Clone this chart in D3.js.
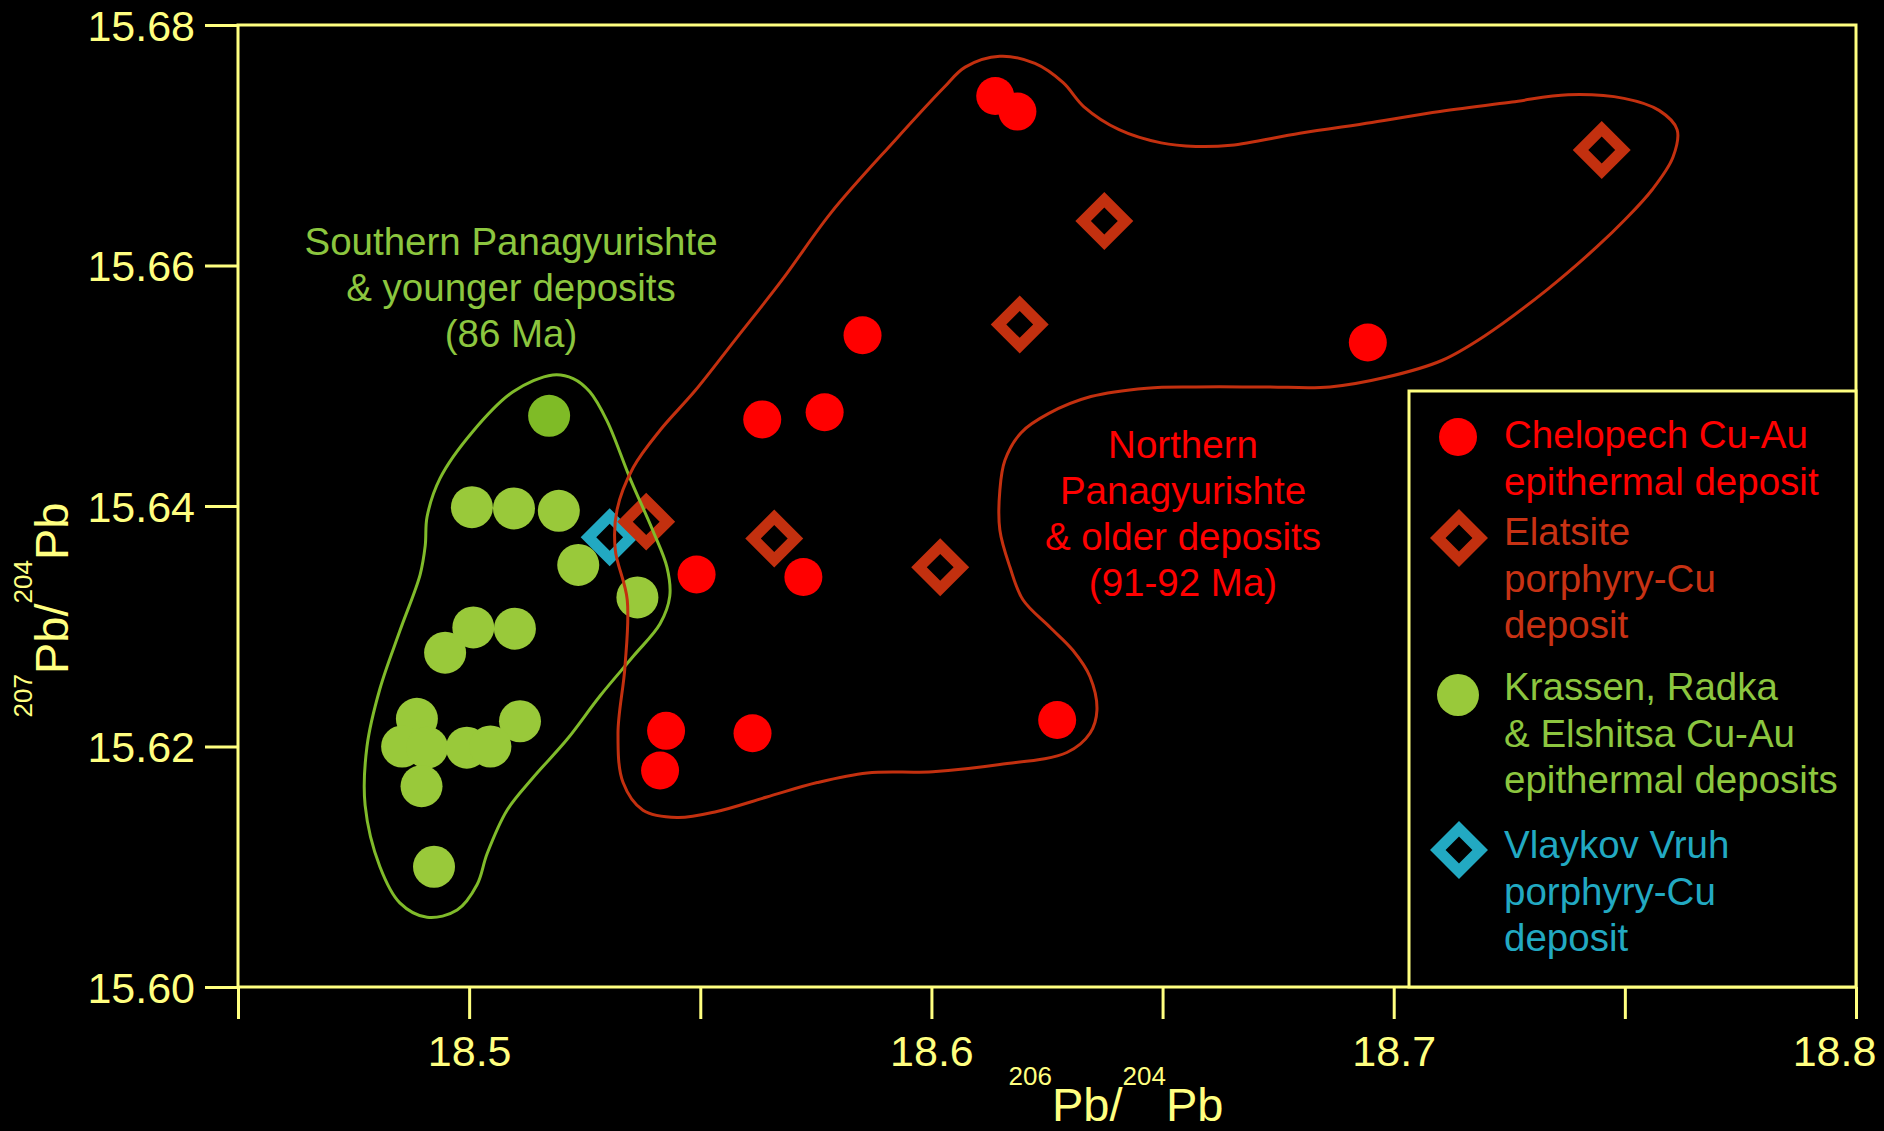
<!DOCTYPE html>
<html>
<head>
<meta charset="utf-8">
<script src="https://cdn.jsdelivr.net/npm/d3@7/dist/d3.min.js"></script>
<style>
  html, body { margin: 0; padding: 0; background: #000; }
  svg { display: block; font-family: Arial, "Liberation Sans", sans-serif; }
</style>
</head>
<body>
<div id="chart"></div>
<script>
// 206Pb/204Pb , 207Pb/204Pb pairs
var chelopech = [
    [18.6138, 15.6741], [18.6186, 15.6728], [18.5851, 15.6542], [18.6944, 15.6536],
    [18.5634, 15.6472], [18.5769, 15.6478], [18.5492, 15.6343], [18.5723, 15.6341],
    [18.5426, 15.6213], [18.5413, 15.6180], [18.5613, 15.6211], [18.6272, 15.6222]
];
var elatsite = [
    [18.7450, 15.6696], [18.6374, 15.6637], [18.6191, 15.6551],
    [18.5383, 15.6387], [18.5660, 15.6373], [18.6019, 15.6349]
];
var krassen = [
    [18.5173, 15.6475], [18.5006, 15.6399], [18.5097, 15.6398], [18.5194, 15.6396],
    [18.5236, 15.6351], [18.5364, 15.6324], [18.5009, 15.6299], [18.5099, 15.6298],
    [18.4948, 15.6278], [18.4887, 15.6223], [18.5110, 15.6221], [18.4855, 15.6200],
    [18.4909, 15.6199], [18.4995, 15.6199], [18.5046, 15.6200], [18.4897, 15.6167],
    [18.4924, 15.6100]
];
var vlaykov = [[18.5304, 15.6374]];

// hand drawn field outlines
var northernField = [
    [18.6148, 15.6774], [18.6224, 15.6768], [18.6285, 15.6752], [18.6330, 15.6732],
    [18.6406, 15.6713], [18.6497, 15.6702], [18.6572, 15.6699], [18.6648, 15.6700],
    [18.6797, 15.6710], [18.6953, 15.6719], [18.7100, 15.6728], [18.7256, 15.6736],
    [18.7377, 15.6742], [18.7498, 15.6739], [18.7574, 15.6729], [18.7613, 15.6713],
    [18.7604, 15.6690], [18.7559, 15.6663], [18.7500, 15.6638], [18.7438, 15.6615],
    [18.7332, 15.6580], [18.7195, 15.6541], [18.7104, 15.6521], [18.6983, 15.6507],
    [18.6862, 15.6499], [18.6724, 15.6499], [18.6572, 15.6499], [18.6466, 15.6498],
    [18.6345, 15.6491], [18.6254, 15.6477], [18.6194, 15.6461], [18.6159, 15.6438],
    [18.6148, 15.6413], [18.6148, 15.6380], [18.6170, 15.6349], [18.6198, 15.6322],
    [18.6257, 15.6299], [18.6306, 15.6280], [18.6343, 15.6258], [18.6358, 15.6230],
    [18.6343, 15.6211], [18.6293, 15.6195], [18.6148, 15.6185], [18.6003, 15.6179],
    [18.5861, 15.6178], [18.5753, 15.6170], [18.5644, 15.6158], [18.5536, 15.6146],
    [18.5450, 15.6141], [18.5376, 15.6147], [18.5333, 15.6170], [18.5322, 15.6211],
    [18.5337, 15.6266], [18.5342, 15.6322], [18.5316, 15.6364], [18.5320, 15.6397],
    [18.5355, 15.6432], [18.5413, 15.6463], [18.5489, 15.6496], [18.5575, 15.6538],
    [18.5677, 15.6588], [18.5783, 15.6644], [18.5921, 15.6704], [18.6027, 15.6748],
    [18.6073, 15.6765]
];
var southernField = [
    [18.5181, 15.6509], [18.5225, 15.6506], [18.5261, 15.6495], [18.5298, 15.6471],
    [18.5348, 15.6423], [18.5398, 15.6379], [18.5428, 15.6349], [18.5434, 15.6325],
    [18.5413, 15.6302], [18.5355, 15.6275], [18.5283, 15.6242], [18.5212, 15.6206],
    [18.5138, 15.6174], [18.5082, 15.6147], [18.5039, 15.6111], [18.5017, 15.6085],
    [18.4974, 15.6064], [18.4909, 15.6058], [18.4850, 15.6070], [18.4807, 15.6100],
    [18.4775, 15.6151], [18.4779, 15.6200], [18.4807, 15.6248], [18.4850, 15.6296],
    [18.4894, 15.6343], [18.4905, 15.6367], [18.4909, 15.6391], [18.4937, 15.6423],
    [18.5008, 15.6462], [18.5095, 15.6495]
];

var xTicks = [18.45, 18.5, 18.55, 18.6, 18.65, 18.7, 18.75, 18.8];
var xTickLabels = ["", "18.5", "", "18.6", "", "18.7", "", "18.8"];
var yTicks = [15.60, 15.62, 15.64, 15.66, 15.68];

var southernLabel = ["Southern Panagyurishte", "& younger deposits", "(86 Ma)"];
var northernLabel = ["Northern", "Panagyurishte", "& older deposits", "(91-92 Ma)"];

var yellow = "#ffff80";
var red = "#ff0000";
var brick = "#c3300f";
var green = "#99c93a";
var greenLine = "#80bb2a";
var greenText = "#8cc63f";
var cyan = "#22a9c2";

var width = 1884, height = 1131;

var svg = d3.select("#chart")
    .append("svg")
    .attr("width", width)
    .attr("height", height)
    .style("background", "#000");

var x = d3.scaleLinear().domain([18.45, 18.8]).range([238, 1856]);
var y = d3.scaleLinear().domain([15.60, 15.68]).range([987, 25]);

// frame
svg.append("rect")
    .attr("x", x(18.45))
    .attr("y", y(15.68))
    .attr("width", x(18.8) - x(18.45))
    .attr("height", y(15.60) - y(15.68))
    .attr("fill", "none")
    .attr("stroke", yellow)
    .attr("stroke-width", 3);

// axes
var xAxis = svg.append("g")
    .attr("transform", "translate(0," + y(15.60) + ")")
    .call(d3.axisBottom(x).tickValues(xTicks).tickSize(32).tickSizeOuter(0)
        .tickFormat(function(d, i) { return xTickLabels[i]; }));
xAxis.select(".domain").remove();
xAxis.selectAll("line").attr("stroke", yellow).attr("stroke-width", 3);
xAxis.selectAll("text")
    .attr("y", 79)
    .attr("dy", 0)
    .attr("dx", function(d, i) { return i === xTicks.length - 1 ? -22 : 0; })
    .attr("fill", yellow)
    .attr("font-size", "43px")
    .attr("font-family", "Arial, 'Liberation Sans', sans-serif");

var yAxis = svg.append("g")
    .attr("transform", "translate(" + x(18.45) + ",0)")
    .call(d3.axisLeft(y).tickValues(yTicks).tickSize(33).tickSizeOuter(0)
        .tickFormat(d3.format(".2f")));
yAxis.select(".domain").remove();
yAxis.selectAll("line").attr("stroke", yellow).attr("stroke-width", 3);
yAxis.selectAll("text")
    .attr("x", -43)
    .attr("dy", "0.36em")
    .attr("fill", yellow)
    .attr("font-size", "43px")
    .attr("font-family", "Arial, 'Liberation Sans', sans-serif");

// axis titles with superscript mass numbers
function isotopeTitle(g, top, bottom) {
    var t = g.append("text")
        .attr("text-anchor", "middle")
        .attr("fill", yellow)
        .attr("font-size", "47px");
    t.append("tspan").attr("font-size", "26px").attr("dy", -36).text(top);
    t.append("tspan").attr("dy", 36).text("Pb/");
    t.append("tspan").attr("font-size", "26px").attr("dy", -36).text(bottom);
    t.append("tspan").attr("dy", 36).text("Pb");
    return t;
}
isotopeTitle(svg.append("g").attr("transform", "translate(1116,1121)"), "206", "204");
isotopeTitle(svg.append("g").attr("transform", "translate(68,610) rotate(-90)"), "207", "204");

// diamond marker
var diamond = d3.symbol().type(d3.symbolSquare).size(900);

// points
svg.append("g").selectAll("circle")
    .data(krassen)
    .enter()
    .append("circle")
    .attr("cx", function(d) { return x(d[0]); })
    .attr("cy", function(d) { return y(d[1]); })
    .attr("r", 21)
    .attr("fill", function(d, i) { return i === 0 ? "#7fbb26" : green; });

svg.append("g").selectAll("circle")
    .data(chelopech)
    .enter()
    .append("circle")
    .attr("cx", function(d) { return x(d[0]); })
    .attr("cy", function(d) { return y(d[1]); })
    .attr("r", 19)
    .attr("fill", red);

svg.append("g").selectAll("path")
    .data(vlaykov)
    .enter()
    .append("path")
    .attr("d", diamond)
    .attr("transform", function(d) { return "translate(" + x(d[0]) + "," + y(d[1]) + ") rotate(45)"; })
    .attr("fill", "none")
    .attr("stroke", cyan)
    .attr("stroke-width", 11);

svg.append("g").selectAll("path")
    .data(elatsite)
    .enter()
    .append("path")
    .attr("d", diamond)
    .attr("transform", function(d) { return "translate(" + x(d[0]) + "," + y(d[1]) + ") rotate(45)"; })
    .attr("fill", "none")
    .attr("stroke", brick)
    .attr("stroke-width", 11);

// field outlines
var outline = d3.line()
    .x(function(d) { return x(d[0]); })
    .y(function(d) { return y(d[1]); })
    .curve(d3.curveCatmullRomClosed.alpha(0.5));

svg.append("path")
    .attr("d", outline(southernField))
    .attr("fill", "none")
    .attr("stroke", greenLine)
    .attr("stroke-width", 3);

svg.append("path")
    .attr("d", outline(northernField))
    .attr("fill", "none")
    .attr("stroke", brick)
    .attr("stroke-width", 3);

// field labels
function multiline(lines, cx, y0, color) {
    svg.append("g").selectAll("text")
        .data(lines)
        .enter()
        .append("text")
        .attr("x", cx)
        .attr("y", function(d, i) { return y0 + i * 46; })
        .attr("text-anchor", "middle")
        .attr("fill", color)
        .attr("font-size", "38.5px")
        .text(function(d) { return d; });
}
multiline(southernLabel, 511, 255, greenText);
multiline(northernLabel, 1183, 458, red);

// legend
var legend = svg.append("g");
legend.append("rect")
    .attr("x", 1409)
    .attr("y", 391)
    .attr("width", 1856 - 1409)
    .attr("height", 987 - 391)
    .attr("fill", "#000")
    .attr("stroke", yellow)
    .attr("stroke-width", 3);

var legendItems = [
    {lines: ["Chelopech Cu-Au", "epithermal deposit"], color: red, text: red, shape: "circle", r: 19, sy: 437, ty: 448},
    {lines: ["Elatsite", "porphyry-Cu", "deposit"], color: brick, text: "#c83214", shape: "diamond", sy: 538, ty: 545},
    {lines: ["Krassen, Radka", "& Elshitsa Cu-Au", "epithermal deposits"], color: green, text: greenText, shape: "circle", r: 21, sy: 695, ty: 700},
    {lines: ["Vlaykov Vruh", "porphyry-Cu", "deposit"], color: cyan, text: cyan, shape: "diamond", sy: 850, ty: 858}
];

legendItems.forEach(function(item) {
    if (item.shape === "circle") {
        legend.append("circle")
            .attr("cx", 1458)
            .attr("cy", item.sy)
            .attr("r", item.r)
            .attr("fill", item.color);
    } else {
        legend.append("path")
            .attr("d", diamond)
            .attr("transform", "translate(1459," + item.sy + ") rotate(45)")
            .attr("fill", "none")
            .attr("stroke", item.color)
            .attr("stroke-width", 11);
    }
    legend.append("g").selectAll("text")
        .data(item.lines)
        .enter()
        .append("text")
        .attr("x", 1504)
        .attr("y", function(d, i) { return item.ty + i * 46.5; })
        .attr("fill", item.text)
        .attr("font-size", "38.5px")
        .text(function(d) { return d; });
});
</script>
</body>
</html>
